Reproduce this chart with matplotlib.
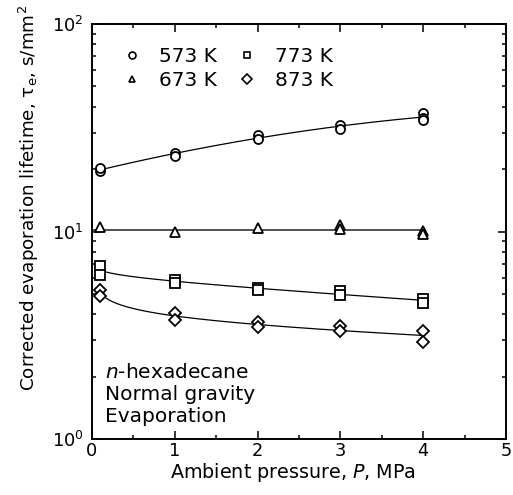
import numpy as np
import matplotlib
matplotlib.use("Agg")
import matplotlib.pyplot as plt
from matplotlib.ticker import MultipleLocator, LogLocator

plt.rcParams['font.family'] = ['DejaVu Sans']
plt.rcParams['mathtext.fontset'] = 'dejavusans'
plt.rcParams['mathtext.default'] = 'regular'

# 读图得到的数据 (MPa, s/mm^2)
p_573 = [0.1, 0.1, 1, 1, 2, 2, 3, 3, 4, 4, 4]
t_573 = [19.6, 20.2, 23.9, 23.1, 29.3, 28.0, 32.5, 31.3, 37.2, 35.3, 34.6]

p_673 = [0.1, 1, 2, 3, 3, 4, 4]
t_673 = [10.5, 9.9, 10.4, 10.7, 10.3, 10.1, 9.7]

p_773 = [0.1, 0.1, 1, 1, 2, 2, 3, 3, 4, 4]
t_773 = [6.85, 6.2, 5.85, 5.65, 5.35, 5.25, 5.15, 4.95, 4.75, 4.5]

p_873 = [0.1, 0.1, 1, 1, 2, 2, 3, 3, 4, 4]
t_873 = [5.2, 4.9, 4.05, 3.75, 3.65, 3.45, 3.5, 3.3, 3.3, 2.95]

series = [
    ("573 K", p_573, t_573, "o", "quad"),
    ("673 K", p_673, t_673, "^", "flat"),
    ("773 K", p_773, t_773, "s", "log"),
    ("873 K", p_873, t_873, "D", "log"),
]
msize = {"o": 6.5, "^": 6.5, "s": 7, "D": 6.5}


def fit_curve(p, t, kind):
    """对 log10(t) 做最小二乘拟合, 返回平滑曲线"""
    p = np.asarray(p, float)
    lt = np.log10(np.asarray(t, float))
    if kind == "flat":
        pp = np.linspace(0, p.max(), 50)
        return pp, np.full_like(pp, 10 ** lt.mean())
    pp = np.linspace(p.min(), p.max(), 200)
    if kind == "quad":
        c = np.polyfit(p, lt, 2)
        return pp, 10 ** np.polyval(c, pp)
    A = np.column_stack([np.ones_like(p), p, np.log(p)])
    coef, *_ = np.linalg.lstsq(A, lt, rcond=None)
    B = np.column_stack([np.ones_like(pp), pp, np.log(pp)])
    return pp, 10 ** (B @ coef)


fig = plt.figure(figsize=(5.13, 4.95), dpi=100)
ax = fig.add_axes([0.1793, 0.1131, 0.8071, 0.8384])

for name, p, t, m, kind in series:
    pp, tt = fit_curve(p, t, kind)
    ax.plot(pp, tt, color="#222222" if kind == "flat" else "black",
            lw=1.1 if kind == "flat" else 0.9, zorder=1)
    ax.plot(p, t, ls="none", marker=m, ms=msize[m], mfc="white", mec="black",
            mew=1.3, zorder=3)
    ax.plot([], [], ls="none", marker=m, ms=5, mfc="white", mec="black",
            mew=1.2, label=name)

ax.set_yscale("log")
ax.set_xlim(0, 5)
ax.set_ylim(1, 100)
ax.xaxis.set_major_locator(MultipleLocator(1))
ax.xaxis.set_minor_locator(MultipleLocator(0.5))
ax.yaxis.set_major_locator(LogLocator(base=10))
ax.yaxis.set_minor_locator(LogLocator(base=10, subs=np.arange(2, 10)))

ax.tick_params(which="both", direction="in", top=True, right=True,
               labelsize=12.8, width=1.1)
ax.tick_params(which="major", length=6)
ax.tick_params(axis="x", which="major", pad=2)
ax.tick_params(axis="y", which="major", pad=6)
ax.tick_params(which="minor", length=3)
for s in ax.spines.values():
    s.set_linewidth(1.4)

ax.set_xlabel("Ambient pressure, $\\it{P}$, MPa", fontsize=13.8)
ax.set_ylabel("Corrected evaporation lifetime, $\\tau_{e}$, s/mm$^{2}$",
              fontsize=13.2)
ax.yaxis.set_label_coords(-0.123, 0.58)
ax.xaxis.set_label_coords(0.486, -0.052)
ax.xaxis.label.set_va("top")

ax.legend(ncol=2, loc="upper left", frameon=False, fontsize=14.5,
          handlelength=1.0, handletextpad=0.85, columnspacing=1.0,
          labelspacing=0.25, borderaxespad=0.0, bbox_to_anchor=(0.053, 0.9635))

notes = ["$\\it{n}$-hexadecane", "Normal gravity", "Evaporation"]
note_y = [0.147, 0.094, 0.041]
for s, y in zip(notes, note_y):
    ax.text(0.031, y, s, transform=ax.transAxes, ha="left", va="baseline",
            fontsize=14.5)

fig.savefig("out.png", dpi=100)
